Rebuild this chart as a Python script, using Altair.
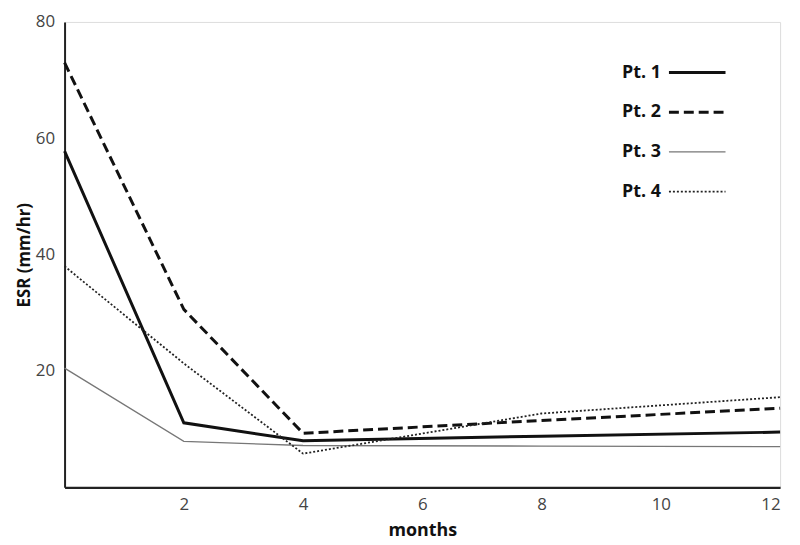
import altair as alt
import pandas as pd

months = [0, 2, 4, 8, 12]
pt1 = [57.8, 11.1, 8.0, 8.8, 9.5]
pt2 = [73.0, 30.6, 9.3, 11.5, 13.6]
pt3 = [20.5, 7.9, 7.2, 7.1, 7.0]
pt4 = [38.0, 21.3, 5.8, 12.7, 15.5]
patients = ["Pt. 1", "Pt. 2", "Pt. 3", "Pt. 4"]
x_ticks = [2, 4, 6, 8, 10, 12]
y_ticks = [20, 40, 60, 80]

series = [pt1, pt2, pt3, pt4]
rows = []
for name, vals in zip(patients, series):
    for m, v in zip(months, vals):
        rows.append({"month": m, "esr": v, "patient": name})
df = pd.DataFrame(rows)

FONT = "Open Sans"
styles = {
    "Pt. 1": dict(color="#111111", strokeWidth=3),
    "Pt. 2": dict(color="#111111", strokeWidth=3, strokeDash=[10, 5]),
    "Pt. 3": dict(color="#777777", strokeWidth=1.3),
    "Pt. 4": dict(color="#222222", strokeWidth=1.8, strokeDash=[2, 2]),
}

x_enc = alt.X("month:Q", scale=alt.Scale(domain=[0, 12], nice=False),
              axis=alt.Axis(values=x_ticks, title="months", grid=False, ticks=False,
                            labelPadding=9, titlePadding=10, domainWidth=2.5,
                            domainColor="#222222", labelFontSize=17, labelColor="#444444",
                            labelFont=FONT, titleFont=FONT, titleFontSize=18,
                            titleFontWeight="bold", titleColor="#111111"))
y_enc = alt.Y("esr:Q", scale=alt.Scale(domain=[0, 80], nice=False),
              axis=alt.Axis(values=y_ticks, title="ESR (mm/hr)", grid=False, ticks=False,
                            labelPadding=10, titlePadding=2, domainWidth=2,
                            domainColor="#222222", labelFontSize=17, labelColor="#444444",
                            labelFont=FONT, titleFont=FONT, titleFontSize=17,
                            titleFontWeight="bold", titleColor="#111111"))

layers = []
for name in patients:
    layers.append(
        alt.Chart(df).transform_filter(alt.datum.patient == name)
        .mark_line(**styles[name]).encode(x=x_enc, y=y_enc)
    )

# legend (manual, label left of line sample)
leg_y = [51, 91, 131, 171]
for name, yy in zip(patients, leg_y):
    st = styles[name]
    layers.append(
        alt.Chart(pd.DataFrame({"label": [name]})).mark_text(
            align="right", baseline="middle", font=FONT, fontSize=18,
            fontWeight="bold", color="#111111"
        ).encode(text="label:N", x=alt.value(601), y=alt.value(yy))
    )
    layers.append(
        alt.Chart(pd.DataFrame({"label": [name]})).mark_rule(**st).encode(
            x=alt.value(609), x2=alt.value(666), y=alt.value(yy)
        )
    )

chart = alt.layer(*layers).properties(
    width=721, height=469,
    autosize=alt.AutoSizeParams(type="none"),
    padding={"left": 57, "top": 12, "right": 12, "bottom": 53},
).configure_view(stroke=None).configure(background="white")

chart.save("out.html", embed_options={"renderer": "svg", "actions": False})
